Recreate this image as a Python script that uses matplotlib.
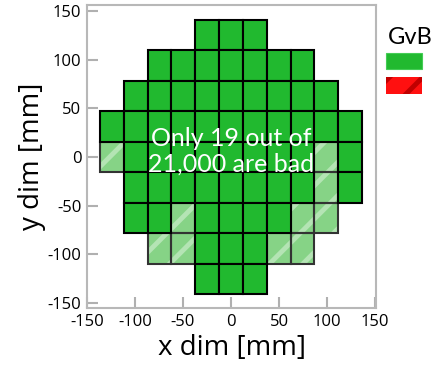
import matplotlib
matplotlib.use("Agg")
import matplotlib.pyplot as plt
from matplotlib.patches import Rectangle

# module grid: row index -> (first column, last column)
row_index = [4, 3, 2, 1, 0, -1, -2, -3, -4]
col_first = [-1, -3, -4, -5, -5, -4, -4, -3, -1]
col_last = [1, 3, 4, 5, 5, 5, 4, 3, 1]

# bad modules as (column, row)
bad_cols = [-5, 4, 4, -2, 3, 4, -3, -2, 2, 3]
bad_rows = [0, 0, -1, -2, -2, -2, -3, -3, -3, -3]

CELL_W = 24.8
CELL_H = 31.3
GREEN = '#21b92f'

plt.rcParams['font.family'] = ['Open Sans', 'DejaVu Sans']
plt.rcParams['hatch.linewidth'] = 3.5
plt.rcParams['axes.unicode_minus'] = False

fig = plt.figure(figsize=(4.38, 3.77), dpi=100)
ax = fig.add_axes([87 / 438, 69 / 377, 289 / 438, 303 / 377])

bad = set(zip(bad_cols, bad_rows))
for r, c0, c1 in zip(row_index, col_first, col_last):
    for c in range(c0, c1 + 1):
        x = c * CELL_W - CELL_W / 2
        y = r * CELL_H - CELL_H / 2
        if (c, r) in bad:
            ax.add_patch(Rectangle((x, y), CELL_W, CELL_H, facecolor='#86d386',
                                   edgecolor='none', zorder=2))
            ax.add_patch(Rectangle((x, y), CELL_W, CELL_H, facecolor='none',
                                   edgecolor='#b4e4b4', hatch='/', linewidth=0,
                                   zorder=3))
            ax.add_patch(Rectangle((x, y), CELL_W, CELL_H, facecolor='none',
                                   edgecolor='#333333', linewidth=1.5, zorder=4))
        else:
            ax.add_patch(Rectangle((x, y), CELL_W, CELL_H, facecolor=GREEN,
                                   edgecolor='black', linewidth=1.5, zorder=5))

ax.text(0, 6, 'Only 19 out of\n21,000 are bad', color='white', fontsize=18,
        ha='center', va='center', family=['Lato', 'DejaVu Sans'],
        linespacing=1.15, zorder=10)

ax.set_xlim(-150, 151)
ax.set_ylim(-155, 156)
ax.set_xticks([-150, -100, -50, 0, 50, 100, 150])
ax.set_yticks([-150, -100, -50, 0, 50, 100, 150])
ax.tick_params(direction='in', length=8, width=1.5, color='#b0b0b0',
               labelsize=12, pad=4)
for s in ax.spines.values():
    s.set_color('#b8b8b8')
    s.set_linewidth(1.5)

ax.set_xlabel('x dim [mm]', fontsize=20, labelpad=3)
ax.set_ylabel('y dim [mm]', fontsize=20, labelpad=1)

# legend drawn by hand on the figure
fig.text(410 / 438, 1 - 37 / 377, 'GvB', fontsize=17, ha='center', va='center',
         family=['Lato', 'DejaVu Sans'])
fig.add_artist(Rectangle((386 / 438, 1 - 69 / 377), 36 / 438, 16 / 377,
                         transform=fig.transFigure, facecolor=GREEN,
                         edgecolor='#44cc55', linewidth=0.8))
fig.add_artist(Rectangle((386 / 438, 1 - 94 / 377), 36 / 438, 17 / 377,
                         transform=fig.transFigure, facecolor='#ff1010',
                         edgecolor='none'))
fig.add_artist(Rectangle((386 / 438, 1 - 94 / 377), 36 / 438, 17 / 377,
                         transform=fig.transFigure, facecolor='none',
                         edgecolor='#c00000', hatch='/', linewidth=0))

fig.savefig('out.png', dpi=100)
